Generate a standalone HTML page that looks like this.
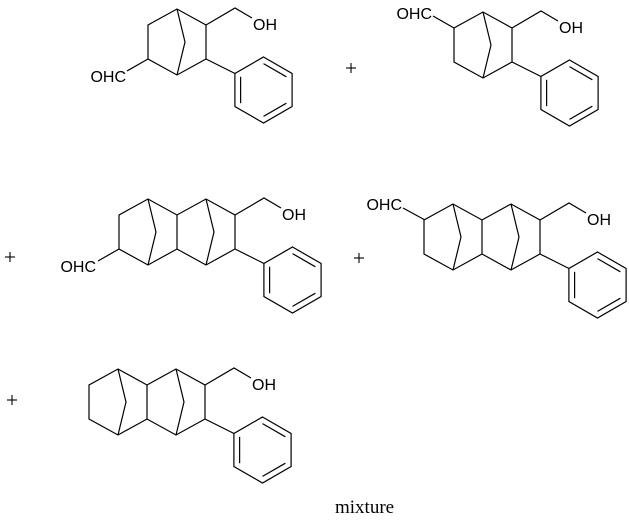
<!DOCTYPE html>
<html><head><meta charset="utf-8"><style>
html,body{margin:0;padding:0;background:#fff;width:629px;height:522px;overflow:hidden}
svg{display:block}
.t{font-family:"Liberation Sans",sans-serif;font-size:16px;fill:#000}
</style></head><body>
<svg width="629" height="522" viewBox="0 0 629 522" xmlns="http://www.w3.org/2000/svg">
<defs>
<g id="ph" fill="none" stroke="#000" stroke-width="1.2">
  <line x1="0" y1="34" x2="29" y2="48.5"/>
  <polygon points="57.5,32 86.1,48.5 86.1,81.5 57.5,98 28.9,81.5 28.9,48.5"/>
  <g transform="translate(57.5,65) scale(0.8)">
    <line x1="0" y1="-33" x2="28.6" y2="-16.5" vector-effect="non-scaling-stroke"/>
    <line x1="28.6" y1="16.5" x2="0" y2="33" vector-effect="non-scaling-stroke"/>
    <line x1="-28.6" y1="16.5" x2="-28.6" y2="-16.5" vector-effect="non-scaling-stroke"/>
  </g>
  <polyline points="0,0 29,-17 46,-7"/>
</g>
<g id="bi" fill="none" stroke="#000" stroke-width="1.2">
  <polyline points="0,34 0,0 -29,-16 -58,0 -58,34 -29,50 0,34"/>
  <polyline points="-29,-16 -21,17 -29,50"/>
</g>
<g id="tri" fill="none" stroke="#000" stroke-width="1.2">
  <polyline points="0,34 0,0 -29,-16 -58,0 -87,-16 -116,0 -116,34 -87,50 -58,34 -29,50 0,34"/>
  <line x1="-58" y1="0" x2="-58" y2="34"/>
  <polyline points="-29,-16 -21,17 -29,50"/>
  <polyline points="-87,-16 -79,17 -87,50"/>
</g>
</defs>

<g transform="translate(206,25)">
  <use href="#bi"/><use href="#ph"/>
  <line x1="-58" y1="34" x2="-79" y2="46" stroke="#000" stroke-width="1.2"/>
  <text class="t" x="47" y="5">OH</text>
  <text class="t" x="-80" y="57" text-anchor="end">OHC</text>
</g>
<g transform="translate(512,28)">
  <use href="#bi"/><use href="#ph"/>
  <line x1="-58" y1="0" x2="-79" y2="-12" stroke="#000" stroke-width="1.2"/>
  <text class="t" x="47" y="5">OH</text>
  <text class="t" x="-80" y="-9" text-anchor="end">OHC</text>
</g>
<g transform="translate(235,215)">
  <use href="#tri"/><use href="#ph"/>
  <line x1="-116" y1="34" x2="-137" y2="46" stroke="#000" stroke-width="1.2"/>
  <text class="t" x="47" y="5">OH</text>
  <text class="t" x="-139" y="57" text-anchor="end">OHC</text>
</g>
<g transform="translate(540,220)">
  <use href="#tri"/><use href="#ph"/>
  <line x1="-115" y1="0" x2="-137" y2="-12" stroke="#000" stroke-width="1.2"/>
  <text class="t" x="47" y="5">OH</text>
  <text class="t" x="-138" y="-10" text-anchor="end">OHC</text>
</g>
<g transform="translate(205,385)">
  <use href="#tri"/><use href="#ph"/>
  <text class="t" x="47" y="5">OH</text>
</g>

<g stroke="#000" stroke-width="1.1">
  <line x1="346" y1="68" x2="356" y2="68"/><line x1="351" y1="63" x2="351" y2="73"/>
  <line x1="5" y1="257" x2="15" y2="257"/><line x1="10" y1="252" x2="10" y2="262"/>
  <line x1="354" y1="258" x2="364" y2="258"/><line x1="359" y1="253" x2="359" y2="263"/>
  <line x1="7" y1="400" x2="17" y2="400"/><line x1="12" y1="395" x2="12" y2="405"/>
</g>
<text x="335" y="513" font-family="'Liberation Serif',serif" font-size="19" fill="#000">mixture</text>
</svg>
</body></html>
